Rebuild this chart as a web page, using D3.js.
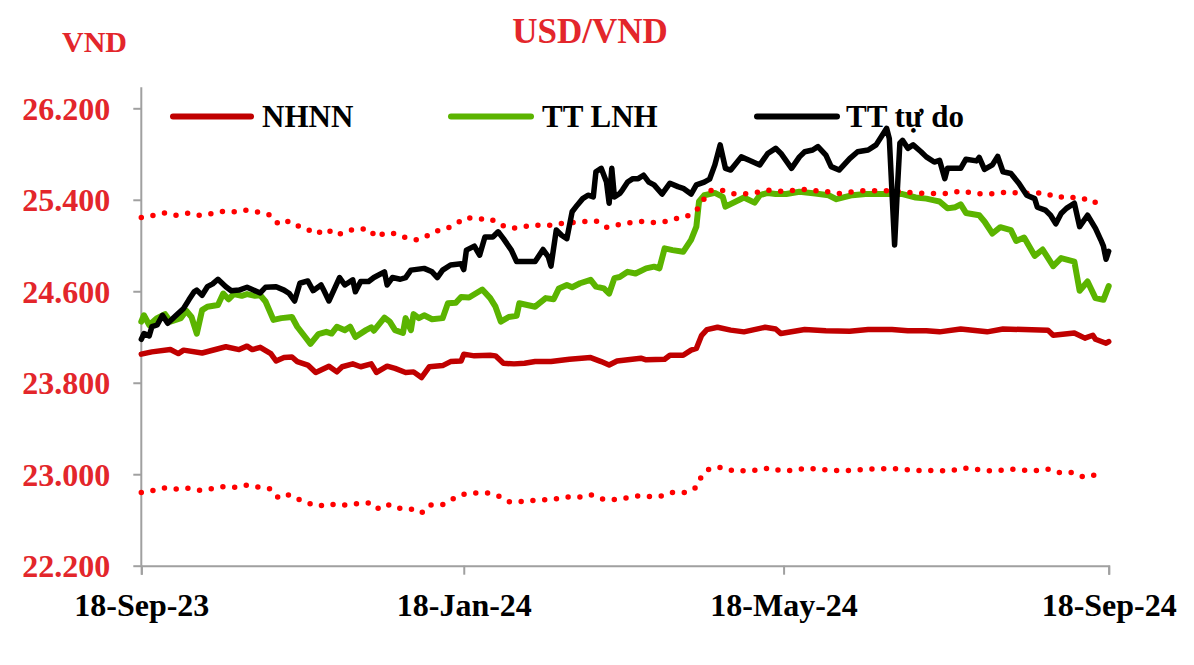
<!DOCTYPE html>
<html><head><meta charset="utf-8">
<script src="https://cdn.jsdelivr.net/npm/d3@7"></script>
<style>
html,body{margin:0;padding:0;background:#fff;}
svg{display:block;}
</style></head>
<body>
<svg id="chart" width="1194" height="665"></svg>
<script>
// ---------------- DATA ----------------
const title = "USD/VND";
const unitLabel = "VND";
const seriesNames = ["NHNN", "TT LNH", "TT tự do"];
const xTickDates = ["2023-09-18", "2024-01-18", "2024-05-18", "2024-09-18"];
const yTickValues = [22200, 23000, 23800, 24600, 25400, 26200];

// NHNN central rate
const nhnnDates = ["2023-09-18","2023-09-22","2023-09-29","2023-10-02","2023-10-04","2023-10-11","2023-10-20","2023-10-25","2023-10-28","2023-10-30","2023-11-02","2023-11-06","2023-11-08","2023-11-11","2023-11-14","2023-11-16","2023-11-20","2023-11-23","2023-11-28","2023-12-01","2023-12-03","2023-12-07","2023-12-10","2023-12-14","2023-12-16","2023-12-20","2023-12-23","2023-12-27","2023-12-30","2024-01-02","2024-01-05","2024-01-10","2024-01-13","2024-01-17","2024-01-18","2024-01-22","2024-01-28","2024-01-30","2024-02-02","2024-02-06","2024-02-10","2024-02-14","2024-02-20","2024-02-27","2024-03-06","2024-03-10","2024-03-13","2024-03-16","2024-03-25","2024-03-27","2024-04-03","2024-04-05","2024-04-10","2024-04-13","2024-04-15","2024-04-17","2024-04-19","2024-04-23","2024-04-28","2024-05-03","2024-05-11","2024-05-15","2024-05-17","2024-05-26","2024-06-03","2024-06-12","2024-06-19","2024-06-28","2024-07-04","2024-07-11","2024-07-16","2024-07-24","2024-08-03","2024-08-09","2024-08-26","2024-08-28","2024-09-05","2024-09-09","2024-09-12","2024-09-13","2024-09-17","2024-09-18"];
const nhnnValues = [24050,24070,24090,24055,24085,24060,24115,24090,24120,24090,24110,24055,23990,24020,24025,23985,23955,23890,23945,23895,23940,23965,23940,23965,23890,23945,23925,23890,23895,23845,23940,23950,23985,23990,24050,24035,24040,24035,23970,23965,23970,23985,23985,24005,24020,23985,23955,23990,24015,24000,24005,24040,24040,24085,24100,24215,24265,24285,24260,24245,24285,24270,24230,24265,24255,24250,24265,24265,24255,24255,24245,24270,24245,24270,24260,24215,24235,24190,24215,24180,24145,24160];

// Interbank market rate
const lnhDates = ["2023-09-18","2023-09-19","2023-09-21","2023-09-24","2023-09-27","2023-09-29","2023-10-03","2023-10-05","2023-10-07","2023-10-09","2023-10-11","2023-10-13","2023-10-17","2023-10-19","2023-10-21","2023-10-23","2023-10-26","2023-10-28","2023-10-31","2023-11-02","2023-11-04","2023-11-07","2023-11-10","2023-11-14","2023-11-16","2023-11-19","2023-11-21","2023-11-24","2023-11-27","2023-11-29","2023-12-01","2023-12-04","2023-12-06","2023-12-08","2023-12-12","2023-12-14","2023-12-15","2023-12-19","2023-12-21","2023-12-23","2023-12-26","2023-12-27","2023-12-29","2023-12-30","2024-01-01","2024-01-03","2024-01-06","2024-01-10","2024-01-12","2024-01-15","2024-01-17","2024-01-20","2024-01-25","2024-01-28","2024-01-30","2024-02-01","2024-02-04","2024-02-07","2024-02-08","2024-02-11","2024-02-14","2024-02-18","2024-02-21","2024-02-23","2024-02-26","2024-02-28","2024-03-02","2024-03-06","2024-03-08","2024-03-11","2024-03-13","2024-03-15","2024-03-17","2024-03-20","2024-03-23","2024-03-27","2024-03-30","2024-04-01","2024-04-03","2024-04-06","2024-04-10","2024-04-13","2024-04-15","2024-04-16","2024-04-18","2024-04-22","2024-04-25","2024-04-26","2024-05-03","2024-05-07","2024-05-09","2024-05-12","2024-05-15","2024-05-19","2024-05-24","2024-05-30","2024-06-04","2024-06-07","2024-06-13","2024-06-18","2024-06-25","2024-07-02","2024-07-07","2024-07-11","2024-07-14","2024-07-16","2024-07-19","2024-07-22","2024-07-24","2024-07-26","2024-07-31","2024-08-02","2024-08-05","2024-08-08","2024-08-12","2024-08-14","2024-08-17","2024-08-21","2024-08-24","2024-08-28","2024-08-31","2024-09-05","2024-09-07","2024-09-10","2024-09-13","2024-09-16","2024-09-18"];
const lnhValues = [24335,24390,24305,24365,24400,24335,24365,24430,24375,24230,24435,24465,24480,24580,24530,24575,24560,24575,24560,24565,24510,24350,24365,24375,24290,24200,24140,24225,24245,24230,24290,24260,24290,24200,24260,24285,24255,24370,24335,24260,24235,24365,24260,24400,24365,24390,24355,24365,24495,24500,24550,24545,24615,24540,24465,24335,24375,24385,24495,24480,24465,24540,24530,24625,24655,24635,24670,24700,24640,24625,24580,24715,24725,24770,24755,24800,24815,24800,24975,24960,24945,25050,25165,25385,25440,25460,25425,25340,25420,25375,25440,25460,25450,25450,25470,25455,25440,25405,25440,25450,25450,25450,25420,25410,25395,25385,25325,25335,25360,25285,25265,25210,25105,25160,25135,25040,25070,24910,24965,24820,24890,24860,24605,24685,24540,24525,24645];

// Free market rate
const tdDates = ["2023-09-18","2023-09-19","2023-09-21","2023-09-22","2023-09-24","2023-09-26","2023-09-28","2023-10-01","2023-10-04","2023-10-06","2023-10-08","2023-10-09","2023-10-11","2023-10-13","2023-10-15","2023-10-17","2023-10-20","2023-10-22","2023-10-25","2023-10-28","2023-10-30","2023-11-02","2023-11-04","2023-11-08","2023-11-11","2023-11-13","2023-11-15","2023-11-17","2023-11-20","2023-11-22","2023-11-25","2023-11-26","2023-11-28","2023-12-02","2023-12-04","2023-12-07","2023-12-08","2023-12-10","2023-12-13","2023-12-15","2023-12-19","2023-12-20","2023-12-22","2023-12-25","2023-12-27","2023-12-29","2024-01-03","2024-01-06","2024-01-08","2024-01-10","2024-01-13","2024-01-17","2024-01-18","2024-01-19","2024-01-22","2024-01-24","2024-01-26","2024-01-29","2024-01-31","2024-02-02","2024-02-05","2024-02-07","2024-02-14","2024-02-17","2024-02-19","2024-02-20","2024-02-22","2024-02-24","2024-02-26","2024-02-28","2024-03-01","2024-03-03","2024-03-05","2024-03-07","2024-03-08","2024-03-10","2024-03-12","2024-03-13","2024-03-14","2024-03-15","2024-03-17","2024-03-18","2024-03-20","2024-03-22","2024-03-24","2024-03-26","2024-03-28","2024-03-30","2024-04-02","2024-04-05","2024-04-08","2024-04-10","2024-04-13","2024-04-15","2024-04-18","2024-04-20","2024-04-22","2024-04-24","2024-04-26","2024-04-28","2024-05-02","2024-05-05","2024-05-09","2024-05-12","2024-05-15","2024-05-17","2024-05-21","2024-05-24","2024-05-26","2024-05-29","2024-05-31","2024-06-03","2024-06-05","2024-06-08","2024-06-12","2024-06-15","2024-06-19","2024-06-22","2024-06-26","2024-06-27","2024-06-29","2024-06-30","2024-07-01","2024-07-02","2024-07-04","2024-07-06","2024-07-09","2024-07-11","2024-07-14","2024-07-16","2024-07-18","2024-07-19","2024-07-24","2024-07-26","2024-07-30","2024-07-31","2024-08-02","2024-08-05","2024-08-07","2024-08-09","2024-08-12","2024-08-15","2024-08-18","2024-08-21","2024-08-22","2024-08-25","2024-08-27","2024-08-29","2024-08-31","2024-09-02","2024-09-05","2024-09-07","2024-09-10","2024-09-13","2024-09-15","2024-09-16","2024-09-17","2024-09-18"];
const tdValues = [24180,24230,24210,24290,24305,24390,24320,24385,24450,24525,24595,24610,24565,24640,24665,24705,24640,24605,24610,24635,24615,24585,24635,24640,24610,24580,24515,24670,24690,24605,24655,24610,24515,24720,24655,24700,24595,24685,24685,24720,24770,24655,24720,24705,24720,24785,24800,24770,24720,24785,24830,24840,24790,24960,24995,24915,25075,25075,25120,25060,24960,24860,24860,24965,24900,24820,25135,25090,25060,25295,25355,25410,25440,25425,25645,25675,25555,25370,25675,25425,25455,25485,25555,25585,25585,25615,25555,25530,25450,25545,25515,25500,25450,25530,25555,25580,25705,25880,25675,25660,25775,25745,25705,25805,25850,25805,25675,25775,25820,25835,25865,25790,25690,25660,25760,25820,25835,25880,26025,25935,25005,25470,25895,25920,25850,25880,25820,25775,25730,25745,25585,25675,25675,25755,25740,25770,25665,25705,25780,25645,25630,25545,25440,25410,25335,25310,25265,25190,25280,25325,25370,25165,25265,25150,25050,24995,24880,24950];

// Trading band ceiling (dotted, upper)
const ceilDates = ["2023-09-18","2023-09-22","2023-09-27","2023-10-01","2023-10-06","2023-10-10","2023-10-15","2023-10-19","2023-10-24","2023-10-28","2023-11-02","2023-11-06","2023-11-09","2023-11-13","2023-11-16","2023-11-20","2023-11-23","2023-11-27","2023-12-01","2023-12-05","2023-12-09","2023-12-13","2023-12-16","2023-12-19","2023-12-23","2023-12-27","2023-12-31","2024-01-03","2024-01-07","2024-01-11","2024-01-15","2024-01-19","2024-01-23","2024-01-28","2024-02-01","2024-02-05","2024-02-09","2024-02-13","2024-02-19","2024-02-23","2024-03-03","2024-03-08","2024-03-12","2024-03-16","2024-03-21","2024-03-25","2024-03-30","2024-04-03","2024-04-07","2024-04-11","2024-04-15","2024-04-20","2024-04-24","2024-04-28","2024-05-03","2024-05-08","2024-05-12","2024-05-17","2024-05-21","2024-05-26","2024-05-30","2024-06-04","2024-06-08","2024-06-13","2024-06-18","2024-06-22","2024-06-27","2024-07-02","2024-07-06","2024-07-11","2024-07-16","2024-07-20","2024-07-24","2024-07-29","2024-08-03","2024-08-07","2024-08-11","2024-08-16","2024-08-21","2024-08-25","2024-08-29","2024-09-03","2024-09-07","2024-09-11","2024-09-14"];
const ceilValues = [25245,25260,25285,25265,25285,25265,25280,25300,25295,25310,25290,25265,25185,25215,25175,25140,25100,25145,25090,25130,25145,25145,25070,25110,25105,25070,25050,25070,25125,25140,25190,25245,25230,25235,25180,25150,25160,25180,25175,25190,25210,25215,25160,25180,25200,25210,25200,25210,25235,25250,25305,25480,25490,25455,25450,25465,25485,25475,25480,25490,25480,25470,25455,25470,25480,25480,25480,25470,25460,25455,25455,25455,25480,25455,25450,25455,25470,25455,25460,25460,25420,25430,25405,25410,25360];

// Trading band floor (dotted, lower)
const floorDates = ["2023-09-18","2023-09-22","2023-09-27","2023-10-01","2023-10-05","2023-10-10","2023-10-15","2023-10-19","2023-10-24","2023-10-28","2023-11-02","2023-11-06","2023-11-09","2023-11-13","2023-11-17","2023-11-21","2023-11-24","2023-11-28","2023-12-02","2023-12-06","2023-12-10","2023-12-14","2023-12-17","2023-12-21","2023-12-25","2023-12-29","2024-01-02","2024-01-05","2024-01-10","2024-01-14","2024-01-18","2024-01-22","2024-01-27","2024-01-31","2024-02-04","2024-02-08","2024-02-13","2024-02-17","2024-02-22","2024-02-26","2024-03-02","2024-03-06","2024-03-11","2024-03-15","2024-03-20","2024-03-24","2024-03-28","2024-04-02","2024-04-06","2024-04-11","2024-04-15","2024-04-17","2024-04-20","2024-04-25","2024-04-29","2024-05-04","2024-05-08","2024-05-13","2024-05-17","2024-05-22","2024-05-26","2024-05-31","2024-06-04","2024-06-09","2024-06-14","2024-06-18","2024-06-23","2024-06-27","2024-07-02","2024-07-07","2024-07-11","2024-07-16","2024-07-21","2024-07-25","2024-07-29","2024-08-03","2024-08-08","2024-08-12","2024-08-17","2024-08-21","2024-08-26","2024-08-30","2024-09-04","2024-09-08","2024-09-12","2024-09-16"];
const floorValues = [22840,22855,22880,22870,22880,22860,22875,22890,22885,22905,22885,22870,22790,22820,22775,22740,22720,22740,22725,22735,22745,22750,22695,22735,22700,22695,22660,22730,22735,22785,22825,22835,22835,22810,22760,22760,22770,22775,22785,22800,22800,22820,22780,22780,22795,22810,22805,22810,22840,22840,22885,22985,23050,23060,23030,23030,23035,23055,23030,23035,23050,23045,23035,23030,23035,23045,23045,23050,23045,23030,23035,23030,23035,23055,23045,23030,23035,23045,23035,23030,23045,23015,23015,22980,22995,22935];

// ---------------- CHART ----------------
(function () {
const RED_TEXT = "#e3262b";
const FONT = '"Liberation Serif"';
const svg = d3.select("#chart");
const parse = d3.timeParse("%Y-%m-%d");
const pLeft = 141.3, pRight = 1108.7, pTop = 108.3, pBottom = 565.7;

const x = d3.scaleTime()
  .domain([parse(xTickDates[0]), parse(xTickDates[xTickDates.length - 1])])
  .range([pLeft, pRight]);
const y = d3.scaleLinear()
  .domain([yTickValues[0], yTickValues[yTickValues.length - 1]])
  .range([pBottom, pTop]);

const viLocale = d3.formatLocale({decimal: ",", thousands: ".", grouping: [3], currency: ["", ""]});
const yFmt = viLocale.format(",.0f");
const xFmt = d3.timeFormat("%d-%b-%y");

// axes
const yAxis = d3.axisLeft(y).tickValues(yTickValues).tickSize(8).tickFormat(yFmt).tickPadding(23);
const yg = svg.append("g").attr("transform", `translate(${pLeft},0)`).call(yAxis);
yg.select(".domain").attr("d", `M0,${pTop - 21}V${pBottom}`);
const xAxis = d3.axisBottom(x).tickValues(xTickDates.map(parse)).tickSize(9).tickFormat(xFmt).tickPadding(22);
const xg = svg.append("g").attr("transform", `translate(0,${pBottom})`).call(xAxis);

[yg, xg].forEach(g => {
  g.attr("font-family", null).attr("font-size", null);
  g.selectAll(".domain").attr("stroke", "#a0a0a0").attr("stroke-width", 2).attr("fill", "none");
  g.selectAll(".tick line").attr("stroke", "#a0a0a0").attr("stroke-width", 2);
});
yg.selectAll(".tick text")
  .attr("fill", RED_TEXT).attr("dy", "0.34em")
  .style("font-family", FONT).style("font-weight", "bold").style("font-size", "32px");
xg.selectAll(".tick text")
  .attr("fill", "#000").attr("dy", "0.6em")
  .style("font-family", FONT).style("font-weight", "bold").style("font-size", "32px");

// lines
const line = d3.line().x(d => x(d.date)).y(d => y(d.value));
const toPts = (dates, vals) => dates.map((d, i) => ({date: parse(d), value: vals[i]}));

const plot = svg.append("g").attr("fill", "none")
  .attr("stroke-linejoin", "round").attr("stroke-linecap", "round");

plot.append("path").datum(toPts(nhnnDates, nhnnValues))
  .attr("d", line).attr("stroke", "#c00000").attr("stroke-width", 5.5);
plot.append("path").datum(toPts(lnhDates, lnhValues))
  .attr("d", line).attr("stroke", "#5bb400").attr("stroke-width", 6);
[toPts(ceilDates, ceilValues), toPts(floorDates, floorValues)].forEach(pts => {
  plot.append("path").datum(pts).attr("d", line)
    .attr("stroke", "#ff0000").attr("stroke-width", 5.5)
    .attr("stroke-dasharray", "0,11.8").attr("stroke-linecap", "round");
});
plot.append("path").datum(toPts(tdDates, tdValues))
  .attr("d", line).attr("stroke", "#000000").attr("stroke-width", 5.5);

// title + unit
const txt = sel => sel.style("font-family", FONT).style("font-weight", "bold");
svg.append("text").attr("x", 590).attr("y", 43).attr("text-anchor", "middle")
  .attr("fill", RED_TEXT).call(txt).style("font-size", "35px").text(title);
svg.append("text").attr("x", 62).attr("y", 52)
  .attr("fill", RED_TEXT).call(txt).style("font-size", "30px").text(unitLabel);

// legend
const legendItems = [
  {name: seriesNames[0], color: "#c00000", x1: 173, x2: 251, tx: 262},
  {name: seriesNames[1], color: "#5bb400", x1: 451, x2: 531, tx: 542},
  {name: seriesNames[2], color: "#000000", x1: 757, x2: 837, tx: 846}
];
const lg = svg.append("g");
legendItems.forEach(it => {
  lg.append("line").attr("x1", it.x1).attr("x2", it.x2).attr("y1", 116.5).attr("y2", 116.5)
    .attr("stroke", it.color).attr("stroke-width", 6).attr("stroke-linecap", "round");
  lg.append("text").attr("x", it.tx).attr("y", 127).attr("fill", "#000")
    .call(txt).style("font-size", "31px").text(it.name);
});
})();
</script>
</body></html>
